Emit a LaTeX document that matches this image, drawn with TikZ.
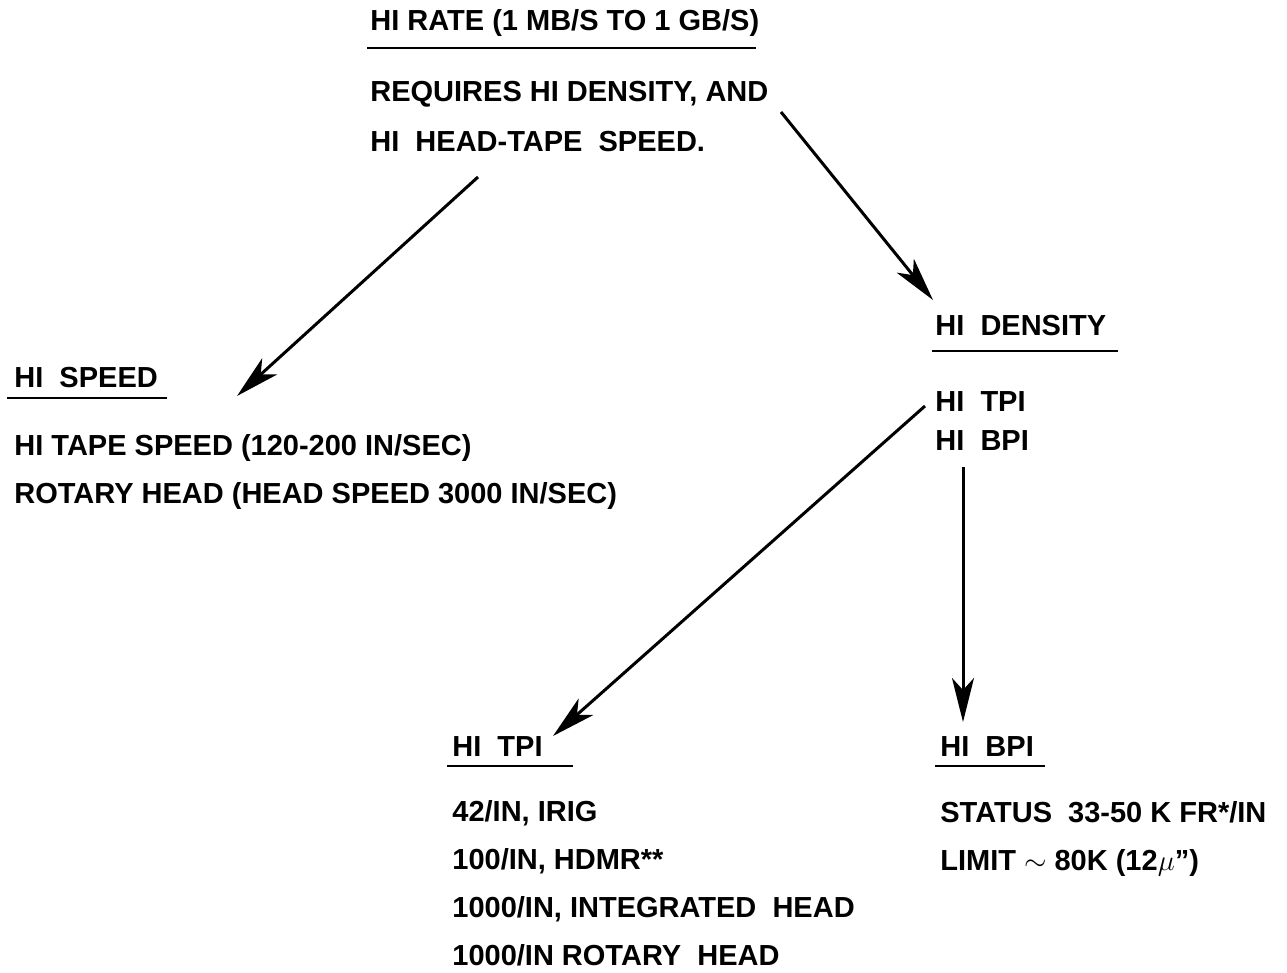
\documentclass[tikz,border=0pt]{standalone}
\usepackage{fontspec}
\setmainfont{Liberation Sans}
\usetikzlibrary{arrows.meta,calc}

\begin{document}
\begin{tikzpicture}[
  x=0.5pt,y=-0.5pt,
  every node/.style={font=\fontsize{14.5}{17}\selectfont\bfseries,inner sep=0pt,anchor=base west},
  link/.style={-{Stealth[length=22pt,width=11pt,inset=6pt]},line width=1.5pt},
  uline/.style={line width=1.2pt},
]
  \useasboundingbox (0,0) rectangle (1287,973);

  % Top block: rate
  \node (rate) at (370,31) {HI RATE (1 MB/S TO 1 GB/S)};
  \node (req)  at (370,102) {REQUIRES HI DENSITY, AND};
  \node (req2) at (370,152) {HI~~HEAD-TAPE~~SPEED.};
  \draw[uline] ([shift={(-3,17)}]rate.base west) -- ([shift={(386,17)}]rate.base west);

  % Left block: speed
  \node (speed) at (14,388) {HI~~SPEED};
  \draw[uline] ([shift={(-7,10)}]speed.base west) -- ([shift={(153,10)}]speed.base west);
  \node (tape) at (14,456) {HI TAPE SPEED (120-200 IN/SEC)};
  \node (rot)  at (14,504) {ROTARY HEAD (HEAD SPEED 3000 IN/SEC)};

  % Right block: density
  \node (density) at (935,336) {HI~~DENSITY};
  \draw[uline] ([shift={(-3,15)}]density.base west) -- ([shift={(183,15)}]density.base west);
  \node (dtpi) at (935,412) {HI~~TPI};
  \node (dbpi) at (935,451) {HI~~BPI};

  % Bottom left: tpi
  \node (tpi) at (452,756) {HI~~TPI};
  \draw[uline] ([shift={(-5,10)}]tpi.base west) -- ([shift={(121,10)}]tpi.base west);
  \node (t1) at (452,821) {42/IN, IRIG};
  \node (t2) at (452,869) {100/IN, HDMR**};
  \node (t3) at (452,917) {1000/IN, INTEGRATED~~HEAD};
  \node (t4) at (452,965) {1000/IN ROTARY~~HEAD};

  % Bottom right: bpi
  \node (bpi) at (940,756) {HI~~BPI};
  \draw[uline] ([shift={(-5,10)}]bpi.base west) -- ([shift={(105,10)}]bpi.base west);
  \node (b1) at (940,822) {STATUS~~33-50 K FR*/IN};
  \node (b2) at (940,870) {LIMIT $\sim$ 80K (12$\mu$'')};

  % Arrows
  \draw[link] ([shift={(108,25)}]req2.base west) -- ([shift={(223,8)}]speed.base west);
  \draw[link] ([shift={(411,10)}]req.base west) -- ([shift={(-2,-36)}]density.base west);
  \draw[link] ([shift={(-10,-6)}]dtpi.base west) -- ([shift={(101,-20)}]tpi.base west);
  \draw[link] ([shift={(28,16)}]dbpi.base west) -- ([shift={(23,-34)}]bpi.base west);
\end{tikzpicture}
\end{document}
